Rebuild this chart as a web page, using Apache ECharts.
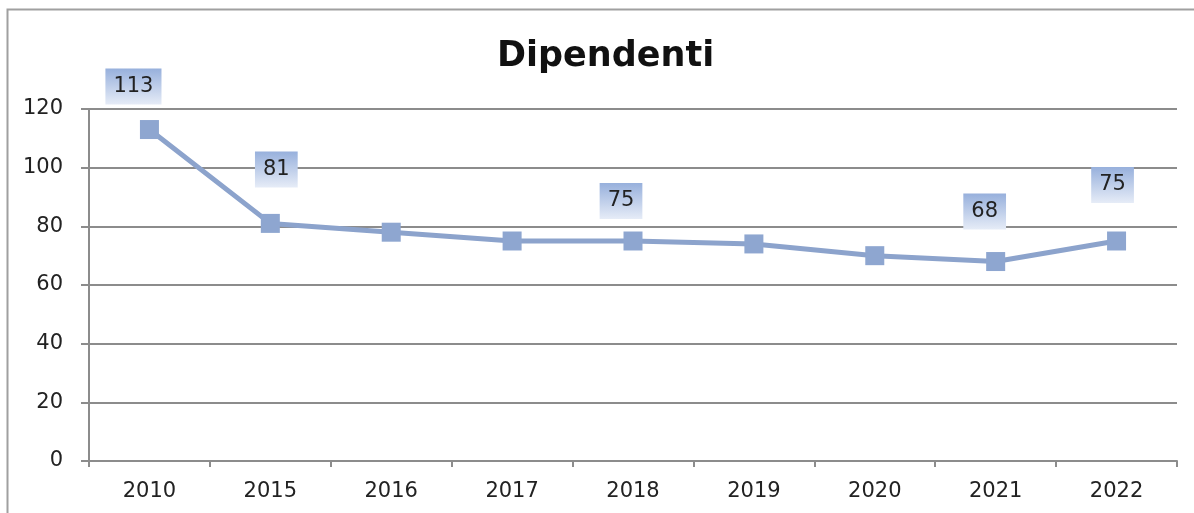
<!DOCTYPE html>
<html>
<head>
<meta charset="utf-8">
<script src="https://cdn.jsdelivr.net/npm/echarts@6/dist/echarts.min.js"></script>
<style>
html,body{margin:0;padding:0;background:#fff;}
#c{width:1194px;height:513px;}
</style>
</head>
<body>
<div id="c"></div>
<script>
const titleText = 'Dipendenti';
const categories = ['2010','2015','2016','2017','2018','2019','2020','2021','2022'];
const values = [113, 81, 78, 75, 75, 74, 70, 68, 75];
const labeledYears = ['2010','2015','2018','2021','2022'];
const yTicks = [0, 20, 40, 60, 80, 100, 120];

// label box placement relative to the marker (layout only)
const labelOffsets = {
  '2010': [-16, -43],
  '2015': [6, -54],
  '2018': [-12, -40],
  '2021': [-11, -50],
  '2022': [-4, -56]
};

const font = 'DejaVu Sans';
const axisGray = '#8c8c8c';

const seriesData = values.map((v, i) => {
  const cat = categories[i];
  const show = labeledYears.indexOf(cat) >= 0;
  const item = { value: v };
  if (show) {
    item.label = { show: true, offset: labelOffsets[cat] || [0, -40] };
  }
  return item;
});

const chart = echarts.init(document.getElementById('c'));
chart.setOption({
  animation: false,
  backgroundColor: '#ffffff',
  title: {
    text: titleText,
    left: 492,
    top: 34,
    textStyle: { fontFamily: 'DejaVu Sans', fontWeight: 'bold', fontSize: 35, color: '#111' }
  },
  graphic: [{
    type: 'polyline',
    shape: { points: [[7.5, 700], [7.5, 9.5], [1400, 9.5]] },
    style: { fill: null, stroke: '#a0a0a0', lineWidth: 2 },
    silent: true
  }],
  grid: { left: 89, right: 17, top: 109, bottom: 52 },
  xAxis: {
    type: 'category',
    data: categories,
    boundaryGap: true,
    axisLine: { show: true, lineStyle: { color: axisGray, width: 2 } },
    axisTick: { show: true, alignWithLabel: false, length: 6, lineStyle: { color: axisGray, width: 2 } },
    axisLabel: { fontFamily: font, fontSize: 21, color: '#222', margin: 20 }
  },
  yAxis: {
    type: 'value',
    min: yTicks[0],
    max: yTicks[yTicks.length - 1],
    interval: yTicks[1] - yTicks[0],
    axisLine: { show: true, lineStyle: { color: axisGray, width: 2 } },
    axisTick: { show: true, length: 8, lineStyle: { color: axisGray, width: 2 } },
    splitLine: { show: true, lineStyle: { color: axisGray, width: 2 } },
    axisLabel: { fontFamily: font, fontSize: 21, color: '#222', margin: 26 }
  },
  series: [{
    type: 'line',
    data: seriesData,
    symbol: 'rect',
    symbolSize: 19,
    lineStyle: { color: '#8ca3cc', width: 5 },
    itemStyle: { color: '#8ea6d0' },
    label: {
      show: false,
      position: 'inside',
      fontFamily: font,
      fontSize: 21,
      lineHeight: 20,
      color: '#222',
      padding: [8, 8, 8, 8],
      backgroundColor: {
        type: 'linear', x: 0, y: 0, x2: 0, y2: 1,
        colorStops: [
          { offset: 0, color: '#97b0dc' },
          { offset: 1, color: '#e6ecf7' }
        ]
      }
    },
    z: 3
  }]
});
</script>
</body>
</html>
